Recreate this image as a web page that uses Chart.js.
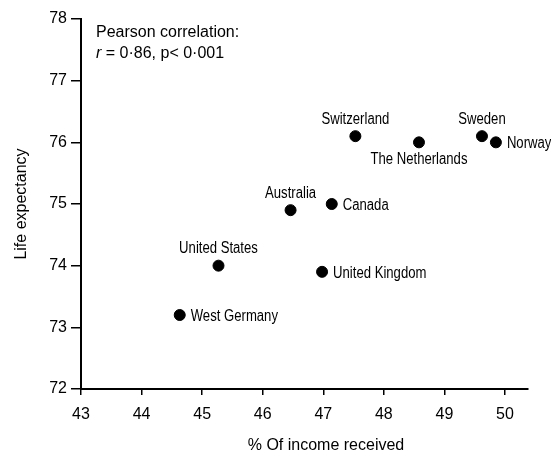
<!DOCTYPE html>
<html lang="en">
<head>
<meta charset="UTF-8">
<title>Life expectancy and income share</title>
<script src="https://cdn.jsdelivr.net/npm/chart.js@4.4.0/dist/chart.umd.min.js"></script>
<style>
  body { margin: 0; background: #fff; }
</style>
</head>
<body>
<canvas id="myChart" width="551" height="453"></canvas>
<script>
// values
const countries = ['West Germany', 'United States', 'Australia', 'Canada', 'United Kingdom',
                   'Switzerland', 'The Netherlands', 'Sweden', 'Norway'];
const incomeShare = [44.63, 45.27, 46.46, 47.14, 46.98, 47.53, 48.58, 49.62, 49.85];
const lifeExpectancy = [73.2, 74.0, 74.9, 75.0, 73.9, 76.1, 76.0, 76.1, 76.0];
const xTicks = [43, 44, 45, 46, 47, 48, 49, 50];
const yTicks = [72, 73, 74, 75, 76, 77, 78];

// where each name sits next to its dot
const labelSide = ['right', 'top', 'top', 'right', 'right', 'top', 'bottom', 'top', 'right'];

Chart.defaults.font.family = '"Liberation Sans", Arial, sans-serif';
Chart.defaults.color = '#000';

const labelPlugin = {
  id: 'labels',
  afterDraw(chart) {
    const ctx = chart.ctx;
    const pts = chart.getDatasetMeta(0).data;
    ctx.save();
    ctx.fillStyle = '#000';
    ctx.font = '16px "Liberation Sans", Arial, sans-serif';
    ctx.textBaseline = 'middle';
    for (let i = 0; i < pts.length; i++) {
      let px = pts[i].x, py = pts[i].y, align = 'left';
      if (labelSide[i] == 'right') { px += 11; py += 1.5; }
      if (labelSide[i] == 'top') { py -= 17; align = 'center'; }
      if (labelSide[i] == 'bottom') { py += 17.5; align = 'center'; }
      // narrow lettering like the original
      ctx.save();
      ctx.translate(px, py);
      ctx.scale(0.82, 1);
      ctx.textAlign = align;
      ctx.fillText(countries[i], 0, 0);
      ctx.restore();
    }

    // correlation note
    ctx.textAlign = 'left';
    ctx.font = '16px "Liberation Sans", Arial, sans-serif';
    ctx.fillText('Pearson correlation:', 96, 33);
    ctx.font = 'italic 16px "Liberation Sans", Arial, sans-serif';
    ctx.fillText('r', 96, 54);
    let w = ctx.measureText('r').width;
    ctx.font = '16px "Liberation Sans", Arial, sans-serif';
    ctx.fillText(' = 0\u00b786, p< 0\u00b7001', 96 + w, 54);

    // x axis title
    ctx.textAlign = 'center';
    ctx.textBaseline = 'alphabetic';
    ctx.fillText('% Of income received', 326, 450);
    ctx.restore();
  }
};

new Chart('myChart', {
  type: 'scatter',
  data: {
    datasets: [{
      data: countries.map((c, i) => ({ x: incomeShare[i], y: lifeExpectancy[i] })),
      backgroundColor: '#000',
      borderColor: '#000',
      pointRadius: 5.5,
      pointHoverRadius: 5.5
    }]
  },
  options: {
    responsive: false,
    animation: false,
    layout: { padding: { top: 19, right: 23, left: 0, bottom: 0 } },
    plugins: { legend: { display: false }, tooltip: { enabled: false } },
    scales: {
      x: {
        type: 'linear',
        min: 43,
        max: 50.38,
        afterBuildTicks: s => { s.ticks = xTicks.map(v => ({ value: v })); },
        afterFit: s => { s.height = 64; },
        grid: { drawOnChartArea: false, tickLength: 6, color: '#000', lineWidth: 1.5 },
        border: { color: '#000', width: 2 },
        ticks: { color: '#000', padding: 10, font: { size: 16 } }
      },
      y: {
        min: 72,
        max: 78,
        afterBuildTicks: s => { s.ticks = yTicks.map(v => ({ value: v })); },
        afterFit: s => { s.width = 81; },
        grid: { drawOnChartArea: false, tickLength: 10, color: '#000', lineWidth: 1.5 },
        border: { color: '#000', width: 2 },
        ticks: { color: '#000', padding: 4, font: { size: 16 } },
        title: { display: true, text: 'Life expectancy', color: '#000', font: { size: 16 }, padding: { top: 12 } }
      }
    }
  },
  plugins: [labelPlugin]
});
</script>
</body>
</html>
